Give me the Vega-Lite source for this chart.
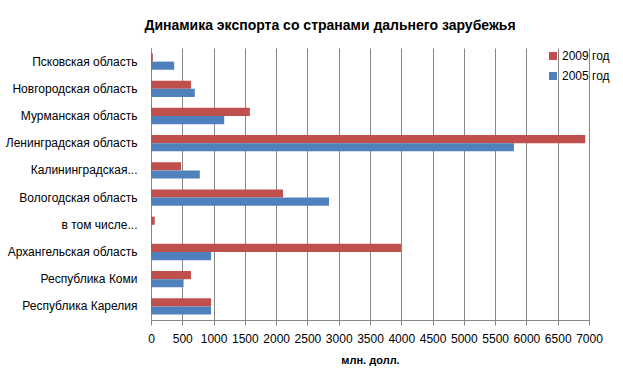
{
  "$schema": "https://vega.github.io/schema/vega-lite/v6.json",
  "autosize": "none",
  "padding": {"left": 151, "top": 48, "right": 34, "bottom": 57},
  "width": 438,
  "height": 272,
  "background": "white",
  "title": {
    "text": "Динамика экспорта со странами дальнего зарубежья",
    "font": "Liberation Sans",
    "fontSize": 14,
    "fontWeight": "bold",
    "color": "#000000",
    "anchor": "middle",
    "dx": -40,
    "offset": 15
  },
  "data": {
    "values": [
      {"region": "Псковская область", "year": "2009 год", "value": 30},
      {"region": "Псковская область", "year": "2005 год", "value": 370},
      {"region": "Новгородская область", "year": "2009 год", "value": 640},
      {"region": "Новгородская область", "year": "2005 год", "value": 700},
      {"region": "Мурманская область", "year": "2009 год", "value": 1580},
      {"region": "Мурманская область", "year": "2005 год", "value": 1170},
      {"region": "Ленинградская область", "year": "2009 год", "value": 6940},
      {"region": "Ленинградская область", "year": "2005 год", "value": 5800},
      {"region": "Калининградская...", "year": "2009 год", "value": 480},
      {"region": "Калининградская...", "year": "2005 год", "value": 780},
      {"region": "Вологодская область", "year": "2009 год", "value": 2110},
      {"region": "Вологодская область", "year": "2005 год", "value": 2845},
      {"region": "в том числе...", "year": "2009 год", "value": 60},
      {"region": "в том числе...", "year": "2005 год", "value": 0},
      {"region": "Архангельская область", "year": "2009 год", "value": 3995},
      {"region": "Архангельская область", "year": "2005 год", "value": 960},
      {"region": "Республика Коми", "year": "2009 год", "value": 640},
      {"region": "Республика Коми", "year": "2005 год", "value": 520},
      {"region": "Республика Карелия", "year": "2009 год", "value": 960},
      {"region": "Республика Карелия", "year": "2005 год", "value": 960}
    ]
  },
  "mark": {"type": "bar"},
  "encoding": {
    "y": {
      "field": "region",
      "type": "nominal",
      "sort": null,
      "scale": {"paddingInner": 0.4, "paddingOuter": 0.2},
      "axis": {
        "title": null,
        "labelFont": "Liberation Sans",
        "labelFontSize": 12,
        "labelColor": "#000000",
        "labelPadding": 14,
        "labelLimit": 200,
        "domainColor": "#868686",
        "ticks": false
      }
    },
    "yOffset": {
      "field": "year",
      "type": "nominal",
      "sort": ["2009 год", "2005 год"]
    },
    "x": {
      "field": "value",
      "type": "quantitative",
      "scale": {"domain": [0, 7000], "nice": false},
      "axis": {
        "title": "млн. долл.",
        "titleFont": "Liberation Sans",
        "titleFontSize": 11,
        "titleFontWeight": "bold",
        "titleColor": "#000000",
        "titlePadding": 10,
        "values": [0, 500, 1000, 1500, 2000, 2500, 3000, 3500, 4000, 4500, 5000, 5500, 6000, 6500, 7000],
        "format": "d",
        "labelFont": "Liberation Sans",
        "labelFontSize": 12,
        "labelColor": "#000000",
        "labelPadding": 8,
        "labelFlush": false,
        "grid": true,
        "gridColor": "#868686",
        "gridWidth": 1,
        "domainColor": "#868686",
        "tickColor": "#868686",
        "tickSize": 5
      }
    },
    "color": {
      "field": "year",
      "type": "nominal",
      "scale": {"domain": ["2009 год", "2005 год"], "range": ["#C0504D", "#4F81BD"]},
      "legend": {
        "title": null,
        "orient": "none",
        "legendX": 396,
        "legendY": 2,
        "symbolType": "square",
        "symbolSize": 64,
        "symbolStrokeWidth": 0,
        "labelFont": "Liberation Sans",
        "labelFontSize": 12,
        "labelColor": "#000000",
        "labelOffset": 3,
        "rowPadding": 8
      }
    }
  },
  "config": {
    "view": {"stroke": null}
  }
}
